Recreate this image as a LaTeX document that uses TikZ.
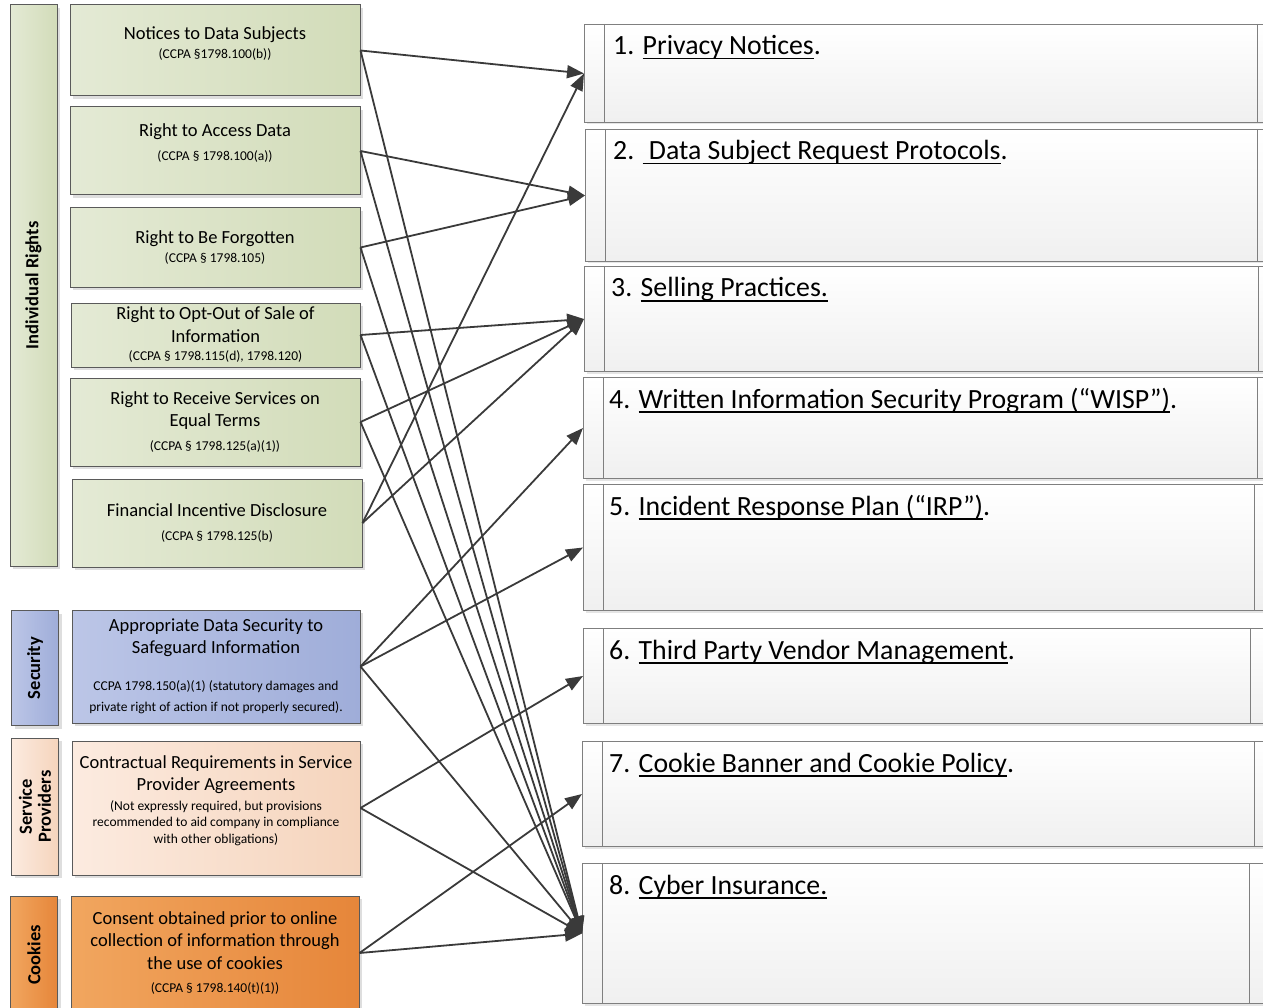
\documentclass[tikz,border=0pt]{standalone}
\usepackage{fontspec}
\setmainfont{Carlito}
\usetikzlibrary{arrows.meta, positioning, calc, shadows}
\definecolor{rightsLight}{HTML}{E4EAD5}
\definecolor{rightsDark}{HTML}{D2DCB9}
\definecolor{secLight}{HTML}{BCC6E7}
\definecolor{secDark}{HTML}{9FADD9}
\definecolor{spLight}{HTML}{FCEBE0}
\definecolor{spDark}{HTML}{F5D4BC}
\definecolor{cookLight}{HTML}{F1A65F}
\definecolor{cookDark}{HTML}{E6863A}
\definecolor{edgeGray}{HTML}{5A5A5A}
\definecolor{arrowGray}{HTML}{3A3A3A}
\definecolor{tgtEdge}{HTML}{7F7F7F}
\newcommand{\boxfont}{\fontsize{18.5}{22.5}\selectfont}
\newcommand{\lawfont}{\fontsize{13.5}{16}\selectfont}
\newcommand{\itemfont}{\fontsize{27.8}{33}\selectfont}
\newcommand{\sidefont}{\bfseries\fontsize{18.5}{21}\selectfont}
% underline at a fixed depth
\newcommand{\undl}[1]{\sbox0{#1}\rlap{\rule[-4.5pt]{\wd0}{1.3pt}}\usebox0}

\begin{document}
\begin{tikzpicture}[x=1pt, y=-1pt,
    srcbox/.style={draw=edgeGray, line width=1pt, minimum width=290pt, align=center, inner sep=2pt, font=\boxfont,
        drop shadow={shadow xshift=3pt, shadow yshift=-3pt, fill=black!13, opacity=1}},
    rightsbox/.style={srcbox, left color=rightsLight, right color=rightsDark},
    secbox/.style={srcbox, left color=secLight, right color=secDark},
    spbox/.style={srcbox, left color=spLight, right color=spDark},
    cookbox/.style={srcbox, left color=cookLight, right color=cookDark},
    sidebar/.style={draw=edgeGray, line width=1pt, minimum width=47pt, inner sep=0pt,
        drop shadow={shadow xshift=3pt, shadow yshift=-3pt, fill=black!13, opacity=1}},
    sidelabel/.style={rotate=90, font=\sidefont, align=center},
    tgtbox/.style={draw=tgtEdge, line width=1pt, anchor=north west, inner sep=0pt, top color=white, bottom color=black!6,
        drop shadow={shadow xshift=2pt, shadow yshift=-2pt, fill=black!10, opacity=1}},
    tgtlabel/.style={anchor=base west, font=\itemfont, inner sep=0pt},
    stripline/.style={draw=tgtEdge, line width=1pt},
    conn/.style={draw=arrowGray, line width=1.8pt, -{Triangle[length=17pt, width=13pt]}}
]
    \useasboundingbox (0,0) rectangle (1263,1008);

    % side bars
    \node[sidebar, left color=rightsLight, right color=rightsDark, minimum height=561pt] (rights) at (33.5,285.5) {};
    \node[sidelabel] (rightslbl) at (rights) {Individual Rights};
    \node[sidebar, left color=secLight, right color=secDark, minimum height=115pt] (sec) at (35,668) {};
    \node[sidelabel] (seclbl) at (sec) {Security};
    \node[sidebar, left color=spLight, right color=spDark, minimum height=137pt] (sp) at (35,806.5) {};
    \node[sidelabel] (splbl) at (sp) {Service\\[-2pt]Providers};
    \node[sidebar, left color=cookLight, right color=cookDark, minimum height=118pt] (cook) at (34,955) {};
    \node[sidelabel] (cooklbl) at (cook) {Cookies};

    % requirements
    \node[rightsbox, minimum height=91pt] (notices) at (215,50.5) {};
    \node[font=\boxfont, align=center] (noticestxt) at ([yshift=7pt]notices.center)
        {Notices to Data Subjects\\[-3pt]{\lawfont (CCPA §1798.100(b))}};
    \node[rightsbox, minimum height=88pt] (access) at (215,151) {};
    \node[font=\boxfont, align=center] (accesstxt) at ([yshift=8pt]access.center)
        {Right to Access Data\\[1pt]{\lawfont (CCPA § 1798.100(a))}};
    \node[rightsbox, minimum height=79pt] (forgot) at (215,247.5)
        {Right to Be Forgotten\\[-3pt]{\lawfont (CCPA § 1798.105)}};
    \node[rightsbox, minimum width=289pt, minimum height=64pt, inner sep=0pt] (optout) at (215.5,335)
        {Right to Opt-Out of Sale of\\Information\\[-4pt]{\lawfont (CCPA § 1798.115(d), 1798.120)}};
    \node[rightsbox, minimum height=88pt] (equal) at (215,422)
        {Right to Receive Services on\\Equal Terms\\[1pt]{\lawfont (CCPA § 1798.125(a)(1))}};
    \node[rightsbox, minimum height=88pt] (incentive) at (217,523)
        {Financial Incentive Disclosure\\[1pt]{\lawfont (CCPA § 1798.125(b)}};
    \node[secbox, minimum width=288pt, minimum height=113pt] (security) at (216,666.5)
        {Appropriate Data Security to\\Safeguard Information\\[14pt]{\lawfont CCPA 1798.150(a)(1) (statutory damages and}\\[-1pt]{\lawfont private right of action if not properly secured).}};
    \node[spbox, minimum width=288pt, minimum height=134pt] (contract) at (216,808) {};
    \node[font=\boxfont, align=center] (contracttxt) at ([yshift=7.5pt]contract.center)
        {Contractual Requirements in Service\\Provider Agreements\\[-3pt]{\lawfont (Not expressly required, but provisions}\\[-6pt]{\lawfont recommended to aid company in compliance}\\[-6pt]{\lawfont with other obligations)}};
    \node[cookbox, minimum width=288pt, minimum height=114pt] (consent) at (215,953)
        {Consent obtained prior to online\\collection of information through\\the use of cookies\\[1pt]{\lawfont (CCPA § 1798.140(t)(1))}};

    % programs
    \node[tgtbox, minimum width=696pt, minimum height=98pt] (privacy) at (584,24) {};
    \node[tgtbox, minimum width=695pt, minimum height=132pt] (dsr) at (585,129) {};
    \node[tgtbox, minimum width=696pt, minimum height=105pt] (selling) at (584,266) {};
    \node[tgtbox, minimum width=697pt, minimum height=101pt] (wisp) at (583,377) {};
    \node[tgtbox, minimum width=697pt, minimum height=126pt] (irp) at (583,484) {};
    \node[tgtbox, minimum width=697pt, minimum height=95pt] (vendor) at (583,628) {};
    \node[tgtbox, minimum width=698pt, minimum height=105pt] (cookie) at (582,741) {};
    \node[tgtbox, minimum width=698pt, minimum height=140pt] (cyber) at (582,863) {};
    \foreach \t/\r in {privacy/1257, dsr/1257, selling/1258, wisp/1257, irp/1254, vendor/1250, cookie/1254, cyber/1249} {
        \draw[stripline] ($(\t.north west)+(20,0)$) -- ($(\t.south west)+(20,0)$);
        \draw[stripline] (\r,0 |- \t.north) -- (\r,0 |- \t.south);
    }
    \node[tgtlabel] (privacylbl) at ($(privacy.north west)+(29,31)$) {1. \undl{Privacy Notices}.};
    \node[tgtlabel] (dsrlbl) at ($(dsr.north west)+(28,31)$) {2. \undl{\ Data Subject Request Protocols}.};
    \node[tgtlabel] (sellinglbl) at ($(selling.north west)+(27,31)$) {3. \undl{Selling Practices.}};
    \node[tgtlabel] (wisplbl) at ($(wisp.north west)+(26,31)$) {4. \undl{Written Information Security Program (“WISP”)}.};
    \node[tgtlabel] (irplbl) at ($(irp.north west)+(26,31)$) {5. \undl{Incident Response Plan (“IRP”)}.};
    \node[tgtlabel] (vendorlbl) at ($(vendor.north west)+(26,31)$) {6. \undl{Third Party Vendor Management}.};
    \node[tgtlabel] (cookielbl) at ($(cookie.north west)+(27,31)$) {7. \undl{Cookie Banner and Cookie Policy}.};
    \node[tgtlabel] (cyberlbl) at ($(cyber.north west)+(27,31)$) {8. \undl{Cyber Insurance.}};

    % connectors
    \draw[conn] (notices.east) -- (privacy.west);
    \draw[conn] (notices.east) -- (cyber.west);
    \draw[conn] (access.east) -- (dsr.west);
    \draw[conn] (access.east) -- (cyber.west);
    \draw[conn] (forgot.east) -- (dsr.west);
    \draw[conn] (forgot.east) -- (cyber.west);
    \draw[conn] (optout.east) -- (selling.west);
    \draw[conn] (optout.east) -- (cyber.west);
    \draw[conn] (equal.east) -- (selling.west);
    \draw[conn] (equal.east) -- (cyber.west);
    \draw[conn] (incentive.east) -- (privacy.west);
    \draw[conn] (incentive.east) -- (selling.west);
    \draw[conn] (security.east) -- (wisp.west);
    \draw[conn] (security.east) -- (irp.west);
    \draw[conn] (security.east) -- (cyber.west);
    \draw[conn] (contract.east) -- (vendor.west);
    \draw[conn] (contract.east) -- (cyber.west);
    \draw[conn] (consent.east) -- (cookie.west);
    \draw[conn] (consent.east) -- (cyber.west);
\end{tikzpicture}
\end{document}
